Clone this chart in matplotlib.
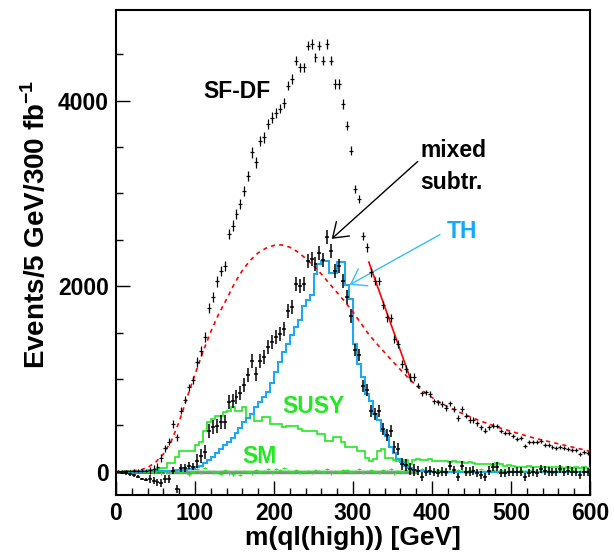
import numpy as np
import matplotlib
matplotlib.use("Agg")
import matplotlib.pyplot as plt
from matplotlib.ticker import MultipleLocator

plt.rcParams['font.family'] = ['Liberation Sans', 'DejaVu Sans']
plt.rcParams['font.weight'] = 'bold'
plt.rcParams['mathtext.fontset'] = 'custom'
plt.rcParams['mathtext.rm'] = 'Liberation Sans:bold'
plt.rcParams['mathtext.bf'] = 'Liberation Sans:bold'

# ---------------- data (5 GeV bins, 0-600 GeV) ----------------
bin_edges = np.arange(0, 605, 5)
centers = bin_edges[:-1] + 2.5

sfdf = [2, 4, 5, 6, 8, 8, 10, 10, 15, 30,
        54, 148, 251, 323, 514, 370, 658, 776, 909, 988,
        1180, 1304, 1455, 1764, 1879, 2051, 2167, 2220, 2562, 2654,
        2778, 2890, 3030, 3191, 3442, 3334, 3568, 3604, 3748, 3818,
        3867, 3915, 3974, 4160, 4233, 4430, 4361, 4361, 4592, 4610,
        4466, 4592, 4430, 4610, 4430, 4179, 4179, 3964, 3730, 3460,
        3047, 2939, 2544, 2418, 2149, 2059, 2059, 1800, 1663, 1656,
        1430, 1376, 1161, 1107, 1017, 1017, 927, 844, 855, 837,
        758, 747, 729, 686, 737, 676, 579, 676, 604, 557,
        557, 521, 478, 442, 478, 496, 496, 435, 413, 413,
        388, 352, 360, 280, 316, 316, 316, 334, 291, 291,
        262, 255, 262, 255, 244, 234, 234, 190, 208, 198]
sfdf_err = ([15] * 8 + [40] * 12 + [55] * 20 + [50] * 20 +
            [45] * 16 + [30] * 20 + [22] * 24)

mixed = [-5, -10, -20, -30, -40, -55, -79, -86, -79, -97,
         -115, -122, -79, -79, 11, -187, 40, 40, 65, 54,
         119, 172, 208, 442, 478, 496, 532, 532, 747, 765,
         801, 850, 935, 1046, 1197, 1056, 1197, 1232, 1340, 1394,
         1448, 1484, 1538, 1736, 1771, 2020, 2003, 2020, 2272, 2290,
         2236, 2362, 2280, 2533, 2382, 2165, 2218, 2059, 1879, 1682,
         1313, 1255, 927, 876, 658, 625, 658, 460, 399, 435,
         262, 244, 83, 76, 29, 18, 11, -54, 0, 11,
         -7, -14, 0, -7, 65, 18, -61, 65, 0, 0,
         11, -14, -36, -61, 11, 47, 54, -14, -14, 0,
         -7, 0, 0, -61, -14, 0, -14, 29, 11, 0,
         -7, -7, 29, -7, 11, 0, -7, -36, 0, -7]
mixed_err = ([15] * 8 + [40] * 12 + [75] * 40 + [65] * 16 + [45] * 44)

th = [0, 0, 0, 0, 1, 1, 2, 2, 3, 3,
      4, 5, 8, 10, 12, 15, 18, 20, 25, 30,
      45, 65, 90, 130, 160, 200, 245, 290, 320, 360,
      420, 470, 530, 580, 620, 700, 750, 800, 860, 960,
      1070, 1180, 1290, 1380, 1470, 1560, 1640, 1790, 1850, 1900,
      2130, 2240, 2270, 2270, 2140, 2140, 2260, 2260, 2010, 1860,
      1376, 1161, 1017, 837, 765, 622, 553, 442, 388, 270,
      200, 140, 100, 60, 35, 20, 8, 3, 2, 1,
      1, 0, 1, 0, 0, 1, 0, 0, 1, 0,
      0, 0, 1, 0, 0, 0, 1, 0, 0, 0,
      0, 1, 0, 0, 0, 0, 1, 0, 0, 0,
      0, 0, 0, 1, 0, 0, 0, 0, 0, 0]

susy = [0, 0, 2, 3, 5, 5, 8, 10, 15, 20,
        25, 40, 40, 90, 90, 154, 219, 219, 219, 219,
        290, 316, 442, 532, 568, 604, 604, 640, 650, 700,
        650, 650, 700, 580, 620, 550, 550, 585, 590, 515,
        515, 515, 478, 496, 496, 496, 460, 442, 442, 442,
        442, 406, 406, 334, 334, 370, 370, 316, 262, 262,
        262, 226, 226, 150, 119, 136, 226, 240, 150, 150,
        130, 120, 125, 130, 80, 130, 140, 130, 130, 135,
        120, 120, 110, 110, 100, 110, 100, 100, 95, 100,
        90, 80, 85, 80, 80, 70, 90, 80, 60, 70,
        60, 55, 50, 55, 65, 55, 50, 50, 45, 55,
        45, 50, 45, 40, 45, 40, 50, 40, 45, 40]

sm = [5, 8, 10, 12, 15, 12, 10, 5, 0, -10,
      5, -20, 10, -15, 0, 20, -5, 10, -30, 0,
      25, -10, 40, 5, -10, 0, -25, 15, -20, -30,
      10, -40, 5, 0, -20, 20, 0, 10, 25, -10,
      30, 15, 40, 10, 0, 20, -10, 0, 5, -15,
      20, 10, 0, 30, -20, 10, 0, 15, 20, -5,
      10, 25, -15, 5, 20, 0, -10, 15, 5, 30,
      -20, 10, 0, 20, 5, -10, 15, 25, 0, 10,
      -5, 20, 10, -15, 5, 0, 15, 10, -10, 20,
      5, 0, 25, -5, 10, 15, 0, 20, -10, 5,
      10, 0, 15, 5, 20, -5, 10, 0, 15, 5,
      -10, 10, 20, 0, 5, 15, -5, 10, 0, 5]
sm_err = [12] * 120

sm_line = [0, 0, 0, 0, 0, 0, 0, 0, 0, 0] + [5] * 110
grey_base_x = [65, 380]
grey_base_y = [0, 0]
dkgreen_x = [0, 60]
dkgreen_y = [0, 0]

fit_dash_x = np.arange(0, 610, 10)
fit_dash_y = [0, 2, 8, 15, 45, 100, 190, 330, 540, 800,
              1050, 1290, 1510, 1700, 1860, 2030, 2170, 2280, 2360, 2410,
              2440, 2445, 2420, 2370, 2300, 2220, 2130, 2030, 1930, 1830,
              1720, 1600, 1480, 1380, 1285, 1190, 1100, 1010, 930, 860,
              800, 745, 700, 660, 620, 585, 550, 520, 490, 460,
              435, 410, 385, 360, 340, 320, 300, 280, 260, 240, 220]
fit_line_x = [320, 374]
fit_line_y = [2260, 970]

# ---------------- figure ----------------
W, H = 614, 556
fig = plt.figure(figsize=(W / 100, H / 100), dpi=100)
ax = fig.add_axes([116 / W, 1 - 495 / H, (590 - 116) / W, (495 - 10) / H])

RED = '#ff0000'
BLUE = '#1ea8f0'
GREEN = '#22e822'

ax.plot(grey_base_x, grey_base_y, color='#888888', lw=2.5, zorder=2)
ax.plot(dkgreen_x, dkgreen_y, color='#118811', lw=2.0, zorder=2)
ax.stairs(sm_line, bin_edges, baseline=None, color=GREEN, lw=1.0, zorder=2)
ax.errorbar(centers, sm, yerr=sm_err, xerr=2.5, fmt='none', ecolor=GREEN,
            elinewidth=0.8, zorder=3)

ax.stairs(susy, bin_edges, baseline=None, color=GREEN, lw=1.2, zorder=3)
ax.stairs(th, bin_edges, baseline=None, color=BLUE, lw=1.5, zorder=3)

ax.plot(fit_dash_x, fit_dash_y, color=RED, lw=1.2, ls=(0, (2.5, 2.5)), zorder=4)
ax.plot(fit_line_x, fit_line_y, color=RED, lw=1.2, zorder=4)

ax.errorbar(centers, sfdf, yerr=sfdf_err, xerr=2.5, fmt='none', ecolor='black',
            elinewidth=0.9, zorder=5)
ax.errorbar(centers, mixed, yerr=mixed_err, xerr=2.5, fmt='none', ecolor='black',
            elinewidth=1.1, zorder=5)

ax.set_xlim(0, 600)
ax.set_ylim(-252, 4978)
ax.set_xticks([0, 100, 200, 300, 400, 500, 600])
ax.set_yticks([0, 2000, 4000])
ax.xaxis.set_minor_locator(MultipleLocator(20))
ax.yaxis.set_minor_locator(MultipleLocator(500))
ax.tick_params(which='both', direction='in', top=False, right=False, width=1.0)
ax.tick_params(which='major', length=10, labelsize=16.5, pad=5)
ax.tick_params(which='minor', length=5)
for lab in ax.get_xticklabels() + ax.get_yticklabels():
    lab.set_fontweight('bold')
for s in ax.spines.values():
    s.set_linewidth(1.5)

ax.set_xlabel('m(ql(high)) [GeV]', fontsize=19, fontweight='bold', labelpad=1)
fig.text(36 / W, 1 - 224 / H, r'Events/5 GeV/300 fb$^{\mathbf{-1}}$', rotation=90,
         ha='center', va='center', fontsize=20, fontweight='bold')

ax.text(153, 4100, 'SF-DF', fontsize=16.5, fontweight='bold', ha='center', va='center')
ax.text(385, 3461, 'mixed', fontsize=16.5, fontweight='bold', ha='left', va='center')
ax.text(385, 3116, 'subtr.', fontsize=16.5, fontweight='bold', ha='left', va='center')
ax.text(438.6, 2592, 'TH', fontsize=16.5, fontweight='bold', ha='center', va='center',
        color='#12aaff')
ax.text(250, 699, 'SUSY', fontsize=16.5, fontweight='bold', ha='center', va='center',
        color=GREEN)
ax.text(182, 159, 'SM', fontsize=16.5, fontweight='bold', ha='center', va='center',
        color=GREEN)

ax.annotate('', xy=(273, 2510), xytext=(382, 3345),
            arrowprops=dict(arrowstyle='->,head_length=0.5,head_width=0.35',
                            color='black', lw=1.0, mutation_scale=20,
                            shrinkA=0, shrinkB=0))
ax.annotate('', xy=(296, 2016), xytext=(410, 2556),
            arrowprops=dict(arrowstyle='->,head_length=0.5,head_width=0.35',
                            color='#33bbff', lw=1.0, mutation_scale=20,
                            shrinkA=0, shrinkB=0))

fig.savefig('out.png', dpi=100)
